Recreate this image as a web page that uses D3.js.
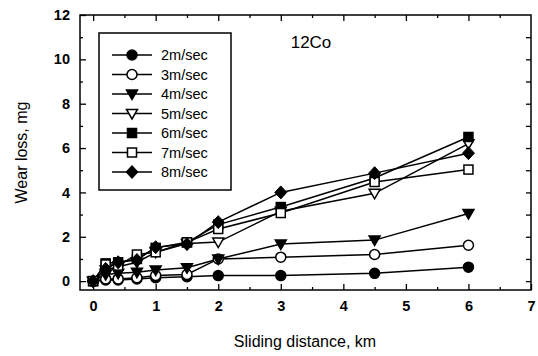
<!DOCTYPE html>
<html>
<head>
<meta charset="utf-8">
<script src="https://cdn.jsdelivr.net/npm/d3@7"></script>
<style>
  body { margin: 0; background: #fff; }
  svg { font-family: "Liberation Sans", Arial, sans-serif; }
</style>
</head>
<body>
<svg id="chart" width="538" height="356"></svg>
<script>
// sliding distance (km) for each measurement
const distance = [0, 0.2, 0.4, 0.7, 1.0, 1.5, 2, 3, 4.5, 6];

// wear loss (mg) per sliding speed
const v2 = [0, 0.05, 0.05, 0.1, 0.15, 0.2, 0.25, 0.25, 0.35, 0.63];
const v3 = [0, 0.1, 0.1, 0.15, 0.25, 0.3, 1.0, 1.08, 1.2, 1.62];
const v4 = [0, 0.3, 0.35, 0.4, 0.5, 0.6, 1.0, 1.67, 1.85, 3.05];
const v5 = [0, 0.5, 0.65, 0.85, 1.3, 1.7, 1.76, 3.15, 3.96, 6.2];
const v6 = [0, 0.8, 0.85, 1.0, 1.5, 1.75, 2.55, 3.34, 4.65, 6.5];
const v7 = [0, 0.75, 0.7, 1.2, 1.3, 1.75, 2.35, 3.07, 4.47, 5.03];
const v8 = [0, 0.55, 0.85, 0.95, 1.53, 1.67, 2.66, 4.0, 4.87, 5.77];

const seriesNames = ["2m/sec", "3m/sec", "4m/sec", "5m/sec", "6m/sec", "7m/sec", "8m/sec"];
const seriesValues = [v2, v3, v4, v5, v6, v7, v8];

const xTicks = [0, 1, 2, 3, 4, 5, 6, 7];
const yTicks = [0, 2, 4, 6, 8, 10, 12];

const svg = d3.select("#chart"),
      margin = { top: 15, right: 7, bottom: 66, left: 80 },
      width = +svg.attr("width") - margin.left - margin.right,
      height = +svg.attr("height") - margin.top - margin.bottom,
      chart = svg.append("g").attr("transform", `translate(${margin.left},${margin.top})`);

const x = d3.scaleLinear().domain([-0.21, 7.0]).range([0, width]);
const y = d3.scaleLinear().domain([-0.4, 12]).range([height, 0]);

// marker drawing per series: [shape, filled]
const markers = [
  ["circle", true], ["circle", false], ["tri", true], ["tri", false],
  ["square", true], ["square", false], ["diamond", true]
];

function drawMarker(g, cx, cy, m) {
  const [shape, filled] = m;
  const fill = filled ? "#000" : "#fff";
  if (shape === "circle") {
    g.append("circle").attr("cx", cx).attr("cy", cy).attr("r", 5)
      .attr("fill", fill).attr("stroke", "#000").attr("stroke-width", 1.5);
  } else if (shape === "tri") {
    g.append("path")
      .attr("d", `M${cx - 5.5},${cy - 4} L${cx + 5.5},${cy - 4} L${cx},${cy + 5.5} Z`)
      .attr("fill", fill).attr("stroke", "#000").attr("stroke-width", 1.5);
  } else if (shape === "square") {
    g.append("rect").attr("x", cx - 4.5).attr("y", cy - 4.5).attr("width", 9).attr("height", 9)
      .attr("fill", fill).attr("stroke", "#000").attr("stroke-width", 1.5);
  } else {
    g.append("path")
      .attr("d", `M${cx},${cy - 6.5} L${cx + 6},${cy} L${cx},${cy + 6.5} L${cx - 6},${cy} Z`)
      .attr("fill", fill).attr("stroke", "#000").attr("stroke-width", 1);
  }
}

// axes with inward ticks
const xAxis = chart.append("g").attr("transform", `translate(0,${height})`)
  .call(d3.axisBottom(x).tickValues(xTicks).tickSize(-6).tickPadding(11).tickFormat(d3.format("d")));
const xMinor = chart.append("g").attr("transform", `translate(0,${height})`)
  .call(d3.axisBottom(x).tickValues(d3.range(0.5, 7, 1)).tickSize(-3).tickFormat(""));
const xTop = chart.append("g")
  .call(d3.axisTop(x).tickValues(xTicks.filter(d => d < 7)).tickSize(-6).tickFormat(""));
const xTopMinor = chart.append("g")
  .call(d3.axisTop(x).tickValues(d3.range(0.5, 7, 1)).tickSize(-3).tickFormat(""));

const yAxis = chart.append("g")
  .call(d3.axisLeft(y).tickValues(yTicks).tickSize(-6).tickPadding(10).tickFormat(d3.format("d")));
const yMinor = chart.append("g")
  .call(d3.axisLeft(y).tickValues(d3.range(1, 12, 2)).tickSize(-3).tickFormat(""));
const yRight = chart.append("g").attr("transform", `translate(${width},0)`)
  .call(d3.axisRight(y).tickValues(d3.range(0, 12, 1)).tickSize(-5).tickFormat(""));

[xAxis, xMinor, xTop, xTopMinor, yAxis, yMinor, yRight].forEach(a => {
  a.select(".domain").remove();
  a.selectAll("line").attr("stroke", "#000").attr("stroke-width", 1.3);
  a.selectAll("text").attr("fill", "#000").attr("font-size", 14.5).attr("font-weight", "bold")
    .attr("font-family", "Liberation Sans, Arial, sans-serif");
});

chart.append("rect")
  .attr("x", 0).attr("y", 0).attr("width", width).attr("height", height)
  .attr("fill", "none").attr("stroke", "#000").attr("stroke-width", 1.5);

// series lines and markers
const line = d3.line().x((d, i) => x(distance[i])).y(d => y(d));
seriesValues.forEach(vals => {
  chart.append("path").datum(vals)
    .attr("d", line).attr("fill", "none").attr("stroke", "#000").attr("stroke-width", 1.5);
});
seriesValues.forEach((vals, s) => {
  const g = chart.append("g");
  vals.forEach((v, i) => drawMarker(g, x(distance[i]), y(v), markers[s]));
});

// legend
const legend = svg.append("g");
legend.append("rect").attr("x", 99).attr("y", 33).attr("width", 132).attr("height", 157)
  .attr("fill", "#fff").attr("stroke", "#000").attr("stroke-width", 1.5);
seriesNames.forEach((name, i) => {
  const ly = 55 + i * 19.5;
  legend.append("line").attr("x1", 112).attr("x2", 152).attr("y1", ly).attr("y2", ly)
    .attr("stroke", "#000").attr("stroke-width", 1.5);
  drawMarker(legend, 132, ly, markers[i]);
  legend.append("text").attr("x", 161).attr("y", ly + 5).attr("font-size", 14.5)
    .attr("fill", "#000").text(name);
});

// label inside plot
svg.append("text").attr("x", 311).attr("y", 48).attr("text-anchor", "middle")
  .attr("font-size", 17).attr("fill", "#000").text("12Co");

// axis titles
svg.append("text").attr("x", 305).attr("y", 347).attr("text-anchor", "middle")
  .attr("font-size", 16).attr("fill", "#000").text("Sliding distance, km");
svg.append("text").attr("transform", `translate(27,${margin.top + height / 2}) rotate(-90)`)
  .attr("text-anchor", "middle").attr("font-size", 16).attr("fill", "#000").text("Wear loss, mg");
</script>
</body>
</html>
